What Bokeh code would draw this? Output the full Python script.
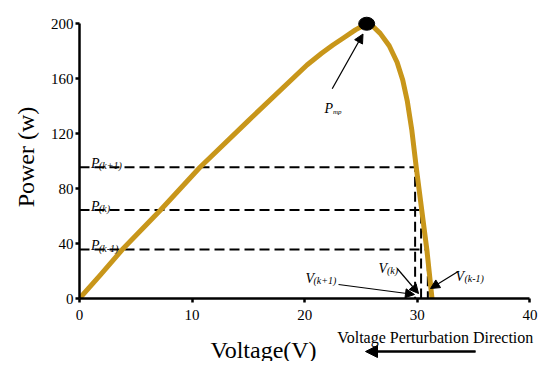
from bokeh.plotting import figure
from bokeh.models import Label, Arrow, NormalHead, FixedTicker, Range1d
from bokeh.layouts import column
from bokeh.embed import file_html
from bokeh.resources import INLINE

# ---- data ----
voltage = [0, 1.9, 3.8, 7.2, 10.7, 15.0, 20.2, 21.5, 22.5, 23.5, 24.5, 25.5,
           26.0, 26.7, 27.5, 28.2, 28.7, 29.1, 29.5, 29.9, 30.3, 30.85, 31.3]
power = [0, 17.5, 35.6, 64.4, 95.5, 129.5, 170, 178.5, 184.5, 190, 195.5, 200,
         198.5, 193, 184, 172, 159, 144, 123, 95.5, 70, 35, 0]
v_mp = [25.5]
p_mp = [200]
level_sub = ["(k-1)", "(k)", "(k+1)"]
level_p = [35.6, 64.4, 95.5]
level_v = [30.93, 30.33, 29.8]
x_ticks = [0, 10, 20, 30, 40]
y_ticks = [0, 40, 80, 120, 160, 200]

GOLD = "#C8961A"
SERIF = "Liberation Serif"

FW, FH = 464, 283          # frame size in px
X_END, Y_END = 41.2, 206   # range ends (axis lines bounded to 40 / 200)
XS = FW / X_END
YS = FH / Y_END
# layout helpers (window px -> data), frame origin at (79, 298)
def dx(px):
    return (px - 79) / XS
def dy(py):
    return (298 - py) / YS

p = figure(frame_width=FW, frame_height=FH, x_range=(0, X_END), y_range=(0, Y_END),
           output_backend="svg", toolbar_location=None,
           min_border_left=79, min_border_right=2, min_border_top=15, min_border_bottom=27)
p.outline_line_color = None
p.xgrid.visible = False
p.ygrid.visible = False

for ax, ticks, b in ((p.xaxis[0], x_ticks, (0, 40)), (p.yaxis[0], y_ticks, (0, 200))):
    ax.ticker = FixedTicker(ticks=ticks)
    ax.bounds = b
    ax.axis_line_width = 2.5
    ax.axis_line_color = "black"
    ax.major_tick_line_width = 2.5
    ax.major_tick_line_color = "black"
    ax.major_tick_in = 0
    ax.major_tick_out = 4
    ax.minor_tick_line_color = None
    ax.major_label_text_font = SERIF
    ax.major_label_text_font_size = "15px"
    ax.major_label_text_color = "black"
p.xaxis[0].major_label_standoff = 7
p.yaxis[0].major_label_standoff = 2
p.yaxis[0].axis_label = "Power (w)"
p.yaxis[0].axis_label_text_font = SERIF
p.yaxis[0].axis_label_text_font_size = "24px"
p.yaxis[0].axis_label_text_font_style = "normal"
p.yaxis[0].axis_label_text_color = "black"
p.yaxis[0].axis_label_standoff = 9

# dashed L-shaped guides
xs = [[0, v, v] for v in level_v]
ys = [[pp, pp, 0] for pp in level_p]
p.multi_line(xs, ys, line_color="black", line_width=2, line_dash="10 5")

# PV curve
p.line(voltage, power, line_color=GOLD, line_width=5, line_cap="round", line_join="round")

# MPP dot
p.ellipse(x=v_mp, y=p_mp, width=16, height=13, width_units="screen", height_units="screen",
          fill_color="black", line_color="black")

def lab(fig, x, y, text, size, xo=0, yo=0, italic=True, align="left", baseline="alphabetic"):
    fig.add_layout(Label(x=x, y=y, x_offset=xo, y_offset=yo, text=text,
                         text_font=SERIF, text_font_size=f"{size}px",
                         text_font_style="italic" if italic else "normal",
                         text_align=align, text_baseline=baseline,
                         text_color="black"))

def arrow(fig, x0, y0, x1, y1, lw=1.2, size=9):
    fig.add_layout(Arrow(x_start=x0, y_start=y0, x_end=x1, y_end=y1,
                         line_width=lw, line_color="black",
                         end=NormalHead(size=size, fill_color="black", line_color="black")))

# P level labels
for sub, pp in zip(level_sub, level_p):
    lab(p, 0, pp, "P", 14, xo=11.5, yo=4)
    lab(p, 0, pp, sub, 10, xo=19.5, yo=1.5)

# Pmp label and arrow
lab(p, dx(324), dy(108), "P", 14)
lab(p, dx(332.5), dy(111), "mp", 7)
arrow(p, dx(331.7), dy(88.3), dx(362.5), dy(33.5))

# V labels and arrows
lab(p, dx(305), dy(278), "V", 14)
lab(p, dx(313), dy(280), level_sub[2], 10)
arrow(p, dx(338), dy(284), dx(414), dy(294))
lab(p, dx(378), dy(268), "V", 14)
lab(p, dx(386.5), dy(270), level_sub[1], 10)
arrow(p, dx(396.7), dy(268), dx(418), dy(293))
lab(p, dx(455), dy(276), "V", 14)
lab(p, dx(464), dy(278), level_sub[0], 10)
arrow(p, dx(458), dy(270.7), dx(430), dy(288))

# ---- strip below the chart: x title and perturbation direction ----
# frame aligned with the chart's frame; x in window px, y = 361 - window px
q = figure(frame_width=FW, frame_height=36, x_range=Range1d(79, 79 + FW),
           y_range=Range1d(0, 36),
           output_backend="svg", toolbar_location=None,
           x_axis_type=None, y_axis_type=None,
           min_border_left=79, min_border_right=2, min_border_top=0, min_border_bottom=0)
q.outline_line_color = None
q.xgrid.visible = False
q.ygrid.visible = False
def qy(py):
    return 361 - py
lab(q, 263, qy(349), "Voltage(V)", 24, italic=False, align="center")
lab(q, 336.7, qy(337), "Voltage Perturbation Direction", 16, italic=False)
q.segment(x0=[475], y0=[qy(351)], x1=[372], y1=[qy(351)], line_color="black", line_width=2)
arrow(q, 475, qy(351), 365, qy(351), lw=2, size=12)

layout = column(p, q, spacing=0)
open("out.html", "w").write(file_html(layout, INLINE))
